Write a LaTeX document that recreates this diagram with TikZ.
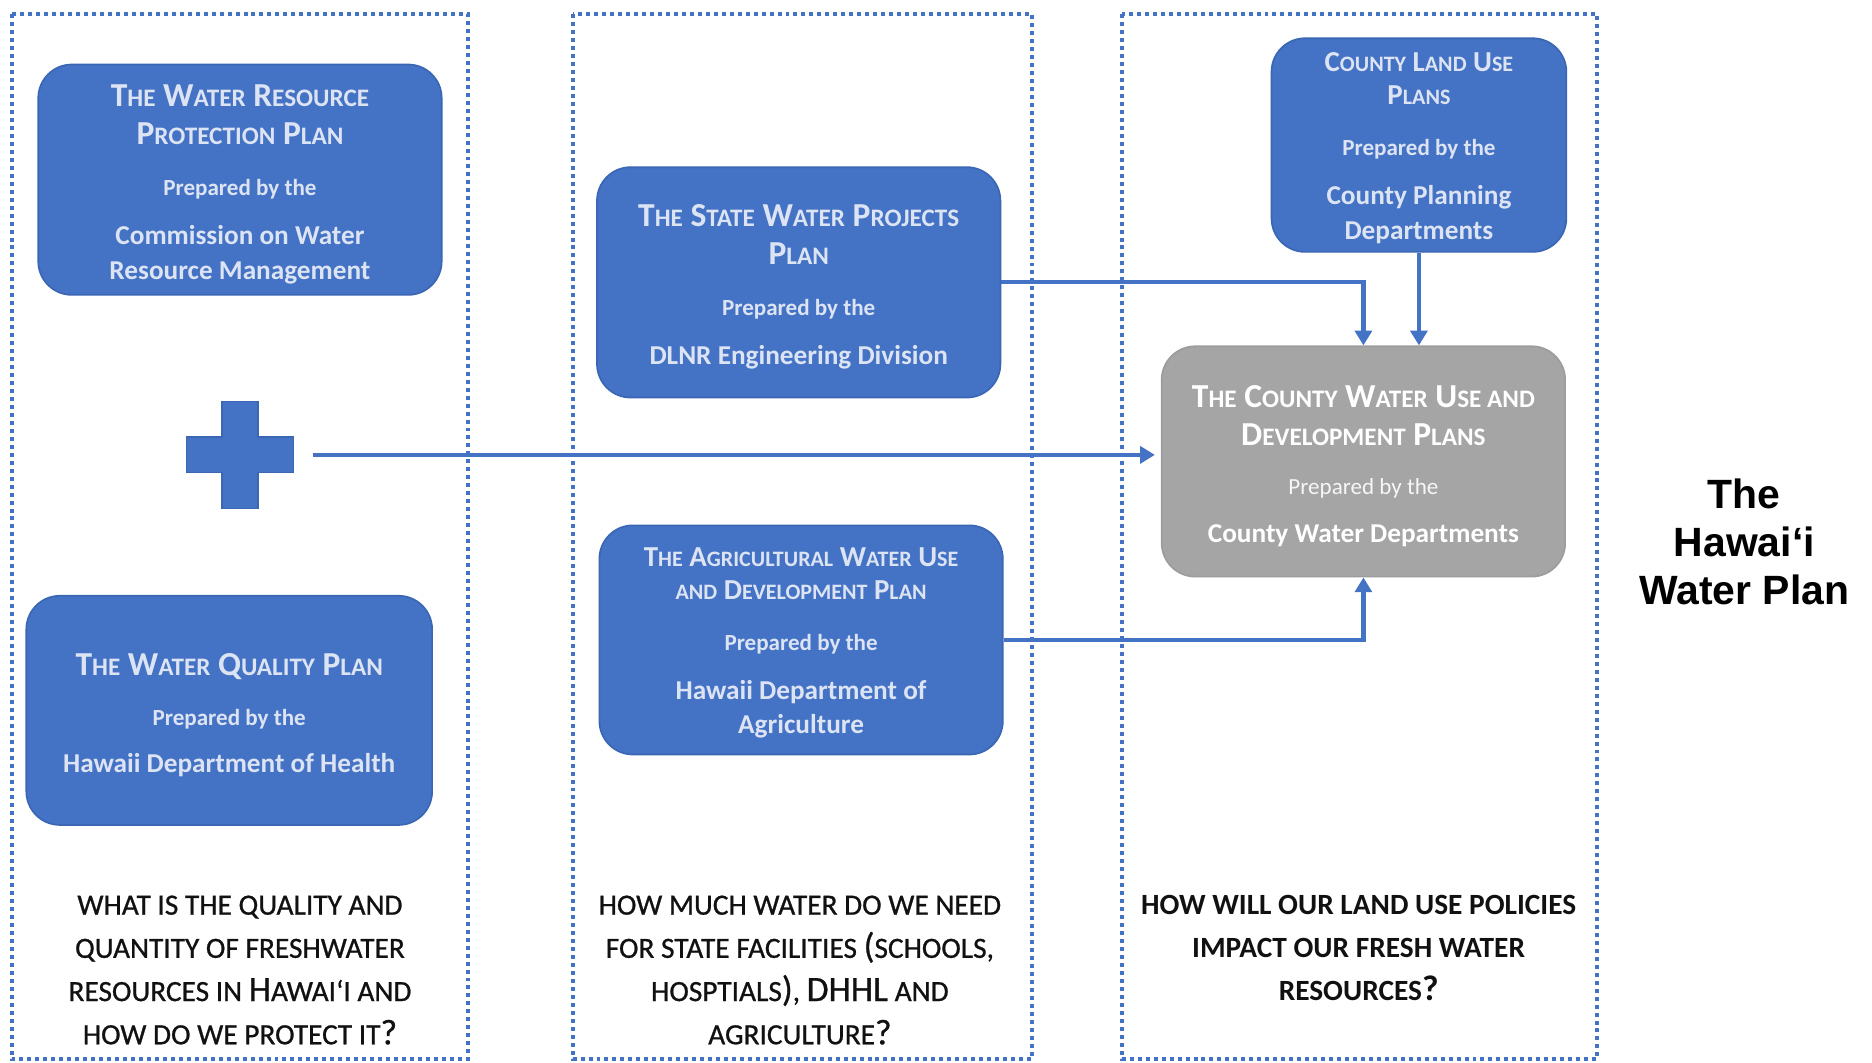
\documentclass[tikz,border=0pt]{standalone}
\usepackage{fontspec}
\setmainfont{Carlito}
\newfontfamily\headfont{Liberation Sans}
\newfontfamily\askfont[FakeBold=0.8]{Carlito}
\usetikzlibrary{arrows.meta}

\definecolor{planblue}{HTML}{4472C4}
\definecolor{planedge}{HTML}{3A66B4}
\definecolor{plangray}{HTML}{A5A5A5}
\definecolor{grayedge}{HTML}{9C9C9C}
\definecolor{plantext}{HTML}{DCE4F4}
\definecolor{qtext}{HTML}{111111}

% fake small caps for the plan titles
\newcommand\lo[1]{{\fontsize{12pt}{13pt}\selectfont #1}}
\newcommand\ttl[1]{{\fontsize{16pt}{16.5pt}\selectfont #1}}
\newcommand\los[1]{{\fontsize{10.5pt}{12pt}\selectfont #1}}
\newcommand\ttls[1]{{\fontsize{13.8pt}{16pt}\selectfont #1}}
\newcommand\prep{{\fontsize{11pt}{13pt}\selectfont Prepared by the}}
\newcommand\hi[1]{{\fontsize{17pt}{20.6pt}\selectfont #1}}
\newcommand\headroom{\rule{0pt}{15pt}}

\tikzset{
  plan/.style={draw=planedge, fill=planblue, line width=0.8pt, rounded corners=16pt,
    minimum width=6.76cm, minimum height=3.86cm, align=center, text=plantext,
    font=\bfseries\fontsize{13pt}{16.5pt}\selectfont},
  county/.style={plan, draw=grayedge, fill=plangray, text=white},
  column/.style={draw=planblue, line width=1.9pt, dash pattern=on 1.9pt off 1.9pt},
  question/.style={align=center, text=qtext, font=\askfont\fontsize{14pt}{20.6pt}\selectfont},
  feed/.style={draw=planblue, line width=2pt, -{Triangle[width=8pt,length=7pt]}}
}

\begin{document}
\begin{tikzpicture}[x=0.02cm,y=-0.02cm]
  \useasboundingbox (0,0) rectangle (1568,890);

  % the three columns
  \draw[column] (10,12)  rectangle (392,887);
  \draw[column] (480,12) rectangle (864,887);
  \draw[column] (940,12) rectangle (1338,887);

  % left column
  \node[plan] (wrpp) at (201,150.5)
    {\headroom\ttl{T\lo{HE} W\lo{ATER} R\lo{ESOURCE}}\\[1.5pt]
     \ttl{P\lo{ROTECTION} P\lo{LAN}}\\[8pt]
     \prep\\[6.8pt]
     Commission on Water\\ Resource Management};
  \node[minimum size=2.44cm] (plus) at (201,381) {};
  \filldraw[planblue, draw=planedge, line width=0.6pt]
    (186,336) -- (216,336) -- (216,366) -- (246,366) -- (246,396) -- (216,396)
    -- (216,426) -- (186,426) -- (186,396) -- (156,396) -- (156,366) -- (186,366) -- cycle;
  \node[plan, minimum width=6.8cm, minimum height=3.84cm] (wqp) at (192,595)
    {\headroom\ttl{T\lo{HE} W\lo{ATER} Q\lo{UALITY} P\lo{LAN}}\\[7pt]
     \prep\\[6pt]
     Hawaii Department of Health};
  \node[question] (q1) at (201,812.5)
    {WHAT IS THE QUALITY AND\\ QUANTITY OF FRESHWATER\\
     RESOURCES IN \hi{H}AWAI‘I AND\\ HOW DO WE PROTECT IT\hi{?}};

  % middle column
  \node[plan] (swpp) at (669,236.5)
    {\headroom\ttl{T\lo{HE} S\lo{TATE} W\lo{ATER} P\lo{ROJECTS}}\\[1.5pt]
     \ttl{P\lo{LAN}}\\[8pt]
     \prep\\[6.8pt]
     DLNR Engineering Division};
  \node[plan, minimum height=3.84cm] (awudp) at (671,536)
    {\rule{0pt}{12pt}\ttls{T\los{HE} A\los{GRICULTURAL} W\los{ATER} U\los{SE}}\\[-1pt]
     \ttls{\los{AND} D\los{EVELOPMENT} P\los{LAN}}\\[8pt]
     \prep\\[6.8pt]
     Hawaii Department of\\ Agriculture};
  \node[question] (q2) at (670,812.5)
    {HOW MUCH WATER DO WE NEED\\ FOR STATE FACILITIES \hi{(}SCHOOLS,\\
     HOSPTIALS\hi{)}, \hi{DHHL} AND\\ AGRICULTURE\hi{?}};

  % right column
  \node[plan, minimum width=4.94cm, minimum height=3.58cm] (clup) at (1188.5,121.5)
    {\rule{0pt}{12pt}\ttls{C\los{OUNTY} L\los{AND} U\los{SE}}\\[-1pt]
     \ttls{P\los{LANS}}\\[8pt]
     \prep\\[6.8pt]
     County Planning\\ Departments};
  \node[county] (cwudp) at (1142,386.5)
    {\headroom\ttl{T\lo{HE} C\lo{OUNTY} W\lo{ATER} U\lo{SE AND}}\\[1.5pt]
     \ttl{D\lo{EVELOPMENT} P\lo{LANS}}\\[7pt]
     {\mdseries\color{white!90!plangray}\prep}\\[6.2pt]
     County Water Departments};
  \node[question, font=\bfseries\fontsize{14pt}{20.6pt}\selectfont] (q3) at (1138,794)
    {HOW WILL OUR LAND USE POLICIES\\ IMPACT OUR FRESH WATER\\ RESOURCES\hi{?}};

  \node[font=\headfont\bfseries\fontsize{19.5pt}{22.8pt}\selectfont, align=center] (title) at (1461,454)
    {The\\ Hawai‘i\\ Water Plan};

  % connectors
  \draw[feed] (swpp.east) -| (cwudp.north);
  \draw[feed] (clup.south) -- (clup.south |- cwudp.north);
  \draw[feed] (awudp.east) -| (cwudp.south);
  \draw[feed, shorten >=0.1cm] (plus.east) -- (plus.east -| cwudp.west);
\end{tikzpicture}
\end{document}
